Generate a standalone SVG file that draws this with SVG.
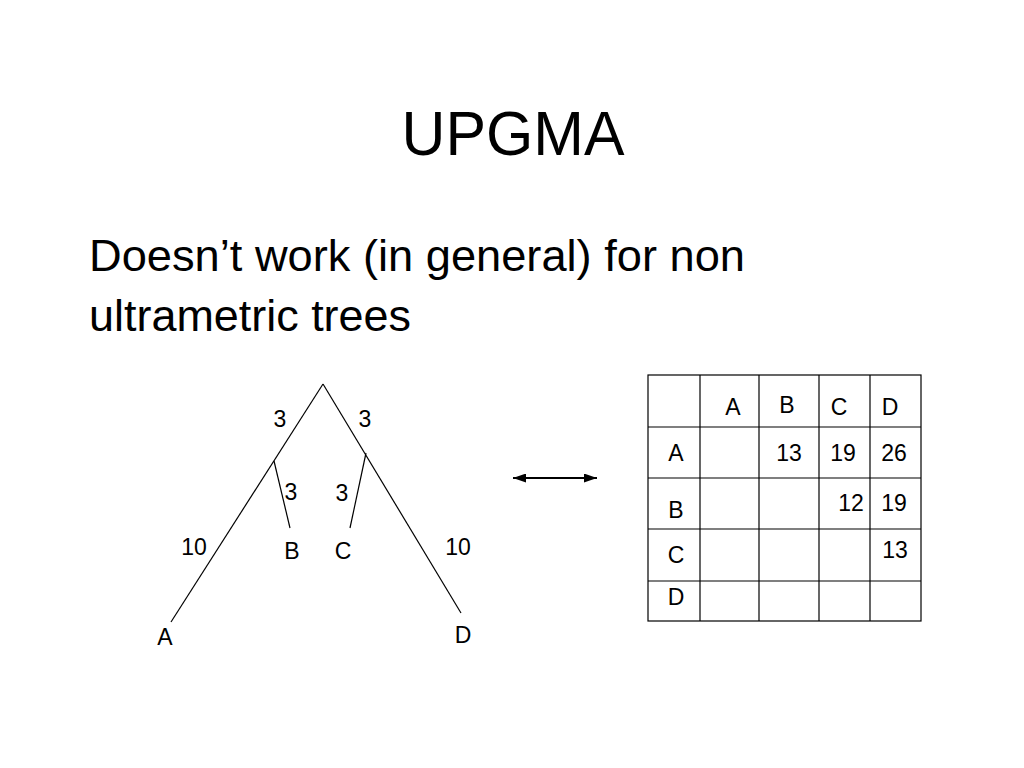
<svg xmlns="http://www.w3.org/2000/svg" width="1024" height="768" viewBox="0 0 1024 768">
<defs>
<style>
text{font-family:"Liberation Sans",Arial,sans-serif;fill:#000}
.lbl{font-size:23px;text-anchor:middle}
.tl{font-size:23px;text-anchor:middle}
.ln{stroke:#000;stroke-width:1.2;fill:none}
.arr{stroke:#000;stroke-width:1.8;fill:none}
.grid{stroke:#000;stroke-width:1.2;fill:none}
</style>
<marker id="ah" viewBox="0 0 13 9" refX="13" refY="4.5" markerWidth="13" markerHeight="9" markerUnits="userSpaceOnUse" orient="auto-start-reverse">
<path d="M0,0 L13,4.5 L0,9 Z" fill="#000"/>
</marker>
</defs>
<rect width="1024" height="768" fill="#fff"/>
<text x="513" y="155" font-size="63" text-anchor="middle" textLength="223" lengthAdjust="spacingAndGlyphs">UPGMA</text>
<text x="89" y="271" font-size="45" textLength="656" lengthAdjust="spacingAndGlyphs">Doesn’t work (in general) for non</text>
<text x="89" y="331" font-size="45" textLength="322" lengthAdjust="spacingAndGlyphs">ultrametric trees</text>

<g id="connectors">
<line class="ln" x1="323" y1="384" x2="171" y2="622"/>
<line class="ln" x1="323" y1="384" x2="461" y2="613"/>
<line class="ln" x1="274" y1="461" x2="290" y2="528"/>
<line class="ln" x1="366" y1="453" x2="350" y2="528"/>
<line class="arr" x1="513" y1="478" x2="597" y2="478" marker-start="url(#ah)" marker-end="url(#ah)"/>
</g>

<g id="tree-labels">
<text class="lbl" x="280" y="427">3</text>
<text class="lbl" x="365" y="427">3</text>
<text class="lbl" x="291" y="500">3</text>
<text class="lbl" x="342" y="501">3</text>
<text class="lbl" x="194" y="555">10</text>
<text class="lbl" x="458" y="555">10</text>
</g>
<g id="node-A"><text class="lbl" x="165" y="645">A</text></g>
<g id="node-B"><text class="lbl" x="292" y="559">B</text></g>
<g id="node-C"><text class="lbl" x="343" y="559">C</text></g>
<g id="node-D"><text class="lbl" x="463" y="643">D</text></g>

<g id="matrix">
<rect class="grid" x="648" y="375" width="273" height="246"/>
<line class="grid" x1="700" y1="375" x2="700" y2="621"/>
<line class="grid" x1="759" y1="375" x2="759" y2="621"/>
<line class="grid" x1="819" y1="375" x2="819" y2="621"/>
<line class="grid" x1="870" y1="375" x2="870" y2="621"/>
<line class="grid" x1="648" y1="427" x2="921" y2="427"/>
<line class="grid" x1="648" y1="478" x2="921" y2="478"/>
<line class="grid" x1="648" y1="529" x2="921" y2="529"/>
<line class="grid" x1="648" y1="581" x2="921" y2="581"/>
<text class="tl" x="733" y="415">A</text>
<text class="tl" x="787" y="413">B</text>
<text class="tl" x="839" y="415">C</text>
<text class="tl" x="890" y="415">D</text>
<text class="tl" x="676" y="461">A</text>
<text class="tl" x="789" y="461">13</text>
<text class="tl" x="843" y="461">19</text>
<text class="tl" x="894" y="461">26</text>
<text class="tl" x="676" y="518">B</text>
<text class="tl" x="851" y="511">12</text>
<text class="tl" x="894" y="511">19</text>
<text class="tl" x="676" y="563">C</text>
<text class="tl" x="895" y="558">13</text>
<text class="tl" x="676" y="605">D</text>
</g>
</svg>
